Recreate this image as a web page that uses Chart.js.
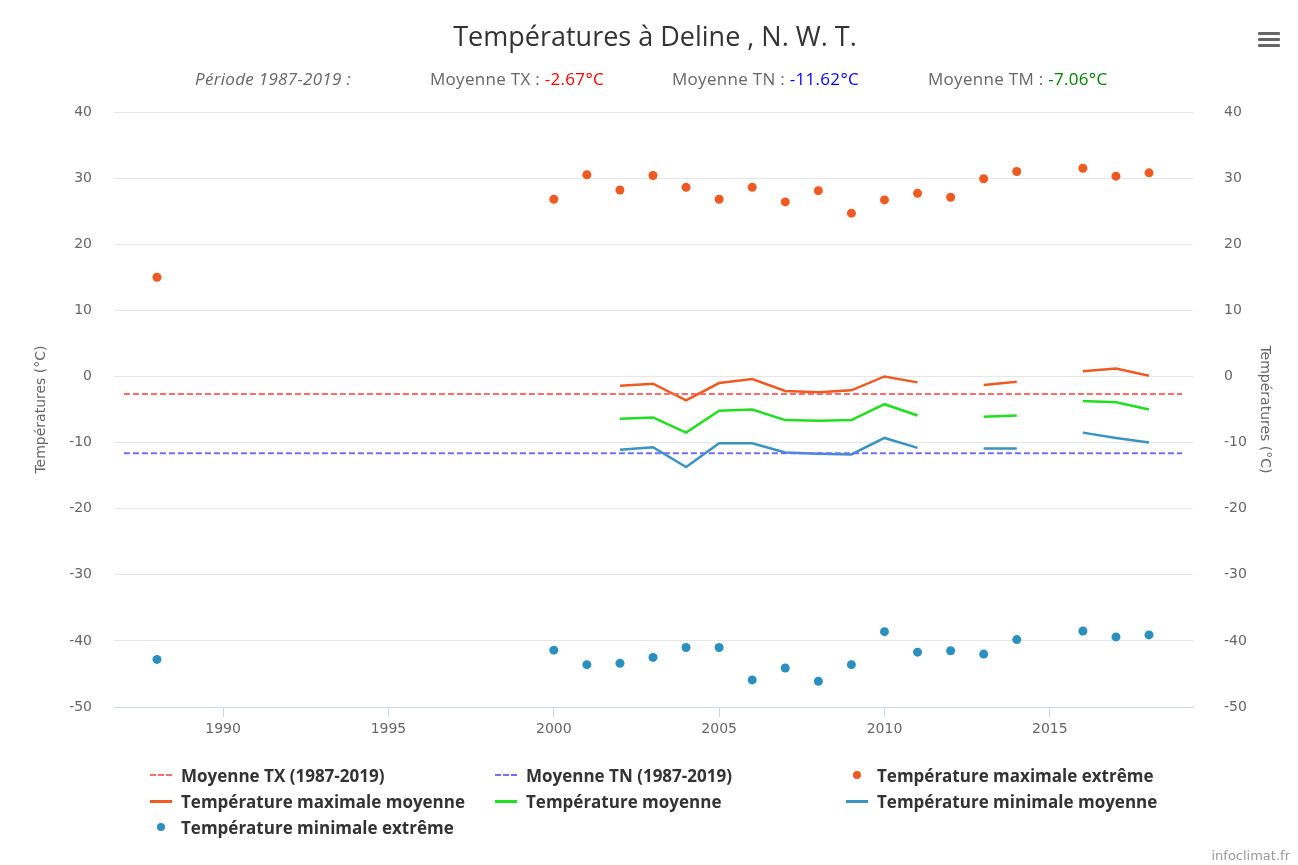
<!DOCTYPE html>
<html>
<head>
<meta charset="utf-8">
<script src="https://cdn.jsdelivr.net/npm/chart.js@4"></script>
<style>
  body { margin: 0; background: #fff; }
  #wrap { position: relative; width: 1298px; height: 865px; overflow: hidden; font-family: "Open Sans", sans-serif; }
  #chart { position: absolute; left: 0; top: 0; }
  #title { position: absolute; left: 0; width: 1310px; top: 17px; text-align: center; font-size: 27px; color: #333; }
  .sub { position: absolute; top: 67px; font-size: 17px; letter-spacing: 0.3px; color: #666; white-space: nowrap; }
  #legend { position: absolute; left: 0; top: 0; width: 1298px; }
  .li { position: absolute; display: flex; align-items: center; font-weight: bold; font-size: 17px; color: #333; white-space: nowrap; height: 20px; }
  .sym { width: 22px; height: 10px; margin-right: 9px; position: relative; }
  #menu { position: absolute; left: 1258px; top: 32px; width: 22px; }
  #menu div { height: 3px; background: #666; margin-bottom: 3px; border-radius: 1px; }
  #credit { position: absolute; right: 8px; top: 848px; font-size: 13px; color: #999; font-family: "DejaVu Sans", sans-serif; }
</style>
</head>
<body>
<div id="wrap">
  <canvas id="chart" width="1298" height="865"></canvas>
  <div id="title">Températures à Deline , N. W. T.</div>
  <div class="sub" style="left:195px"><i>Période 1987-2019 :</i></div>
  <div class="sub" style="left:430px">Moyenne TX : <span style="color:#ff0000">-2.67°C</span></div>
  <div class="sub" style="left:672px">Moyenne TN : <span style="color:#0000ff">-11.62°C</span></div>
  <div class="sub" style="left:928px">Moyenne TM : <span style="color:#008000">-7.06°C</span></div>
  <div id="menu"><div></div><div></div><div></div></div>
  <div id="legend"></div>
  <div id="credit">infoclimat.fr</div>
</div>
<script>
// Années et valeurs (°C)
var refYears = [1987, 2019];
var avgTX = -2.67;
var avgTN = -11.62;

var lineYears = [2002, 2003, 2004, 2005, 2006, 2007, 2008, 2009, 2010, 2011, 2012, 2013, 2014, 2015, 2016, 2017, 2018];
var txMean = [-1.4, -1.1, -3.6, -1.0, -0.4, -2.2, -2.4, -2.1, 0.0, -0.9, null, -1.3, -0.8, null, 0.8, 1.2, 0.1];
var tmMean = [-6.4, -6.2, -8.5, -5.2, -5.0, -6.6, -6.7, -6.6, -4.2, -5.9, null, -6.1, -5.9, null, -3.7, -3.9, -5.0];
var tnMean = [-11.1, -10.7, -13.7, -10.1, -10.1, -11.5, -11.7, -11.8, -9.3, -10.8, null, -10.9, -10.9, null, -8.5, -9.3, -10.0];

var extYears = [1988, 2000, 2001, 2002, 2003, 2004, 2005, 2006, 2007, 2008, 2009, 2010, 2011, 2012, 2013, 2014, 2016, 2017, 2018];
var txExt = [15.0, 26.8, 30.5, 28.2, 30.4, 28.6, 26.8, 28.6, 26.4, 28.1, 24.7, 26.7, 27.7, 27.1, 29.9, 31.0, 31.5, 30.3, 30.8];
var tnExt = [-42.8, -41.4, -43.6, -43.4, -42.5, -41.0, -41.0, -45.9, -44.1, -46.1, -43.6, -38.6, -41.7, -41.5, -42.0, -39.8, -38.5, -39.4, -39.1];

var xTicks = [1990, 1995, 2000, 2005, 2010, 2015];
var yTicks = [40, 30, 20, 10, 0, -10, -20, -30, -40, -50];

function pts(xs, ys) {
	return xs.map((x, i) => ({ x: x, y: ys[i] }));
}

var tickFont = { family: "DejaVu Sans", size: 14 };

var chart = new Chart(document.getElementById("chart"), {
	type: "line",
	data: {
		datasets: [
			{
				label: "Moyenne TX (1987-2019)",
				data: pts(refYears, [avgTX, avgTX]),
				borderColor: "#ff6a6a",
				borderWidth: 2,
				borderDash: [6, 3],
				pointRadius: 0,
				legendCol: 0, legendRow: 0, sym: "dash",
			},
			{
				label: "Moyenne TN (1987-2019)",
				data: pts(refYears, [avgTN, avgTN]),
				borderColor: "#7070ff",
				borderWidth: 2,
				borderDash: [6, 3],
				pointRadius: 0,
				legendCol: 1, legendRow: 0, sym: "dash",
			},
			{
				label: "Température maximale extrême",
				data: pts(extYears, txExt),
				showLine: false,
				pointRadius: 4.5,
				pointBorderWidth: 0,
				pointBackgroundColor: "#ef5a22",
				borderColor: "#ef5a22",
				legendCol: 2, legendRow: 0, sym: "dot",
			},
			{
				label: "Température maximale moyenne",
				data: pts(lineYears, txMean),
				borderColor: "#ef5a22",
				borderWidth: 2.5,
				pointRadius: 0,
				spanGaps: false,
				legendCol: 0, legendRow: 1, sym: "line",
			},
			{
				label: "Température moyenne",
				data: pts(lineYears, tmMean),
				borderColor: "#1ee01e",
				borderWidth: 2.5,
				pointRadius: 0,
				spanGaps: false,
				legendCol: 1, legendRow: 1, sym: "line",
			},
			{
				label: "Température minimale moyenne",
				data: pts(lineYears, tnMean),
				borderColor: "#3a94c2",
				borderWidth: 2.5,
				pointRadius: 0,
				spanGaps: false,
				legendCol: 2, legendRow: 1, sym: "line",
			},
			{
				label: "Température minimale extrême",
				data: pts(extYears, tnExt),
				showLine: false,
				pointRadius: 4.5,
				pointBorderWidth: 0,
				pointBackgroundColor: "#2b8fbf",
				borderColor: "#2b8fbf",
				legendCol: 0, legendRow: 2, sym: "dot",
			},
		],
	},
	options: {
		responsive: false,
		animation: false,
		layout: { padding: { top: 112, left: 0, right: 0, bottom: 0 } },
		plugins: { legend: { display: false }, tooltip: { enabled: false } },
		scales: {
			x: {
				type: "linear",
				min: 1986.7,
				max: 2019.33,
				afterFit: (s) => { s.height = 158; },
				afterBuildTicks: (s) => { s.ticks = xTicks.map((v) => ({ value: v })); },
				grid: { drawOnChartArea: false, drawTicks: true, tickLength: 10, color: "#ccd6eb" },
				border: { color: "#ccd6eb", width: 1 },
				ticks: { color: "#666", font: tickFont, padding: 4, maxRotation: 0, callback: (v) => String(v) },
			},
			y: {
				position: "left",
				min: -50,
				max: 40,
				afterFit: (s) => { s.width = 114; },
				afterBuildTicks: (s) => { s.ticks = yTicks.map((v) => ({ value: v })); },
				grid: { color: "#e6e6e6", drawTicks: false },
				border: { display: false },
				ticks: { color: "#666", font: tickFont, padding: 22 },
				title: { display: true, text: "Températures (°C)", color: "#666", font: { family: "DejaVu Sans", size: 14 }, padding: { top: 33 } },
			},
			y2: {
				position: "right",
				min: -50,
				max: 40,
				afterFit: (s) => { s.width = 105; },
				afterBuildTicks: (s) => { s.ticks = yTicks.map((v) => ({ value: v })); },
				grid: { display: false },
				border: { display: false },
				ticks: { color: "#666", font: tickFont, padding: 23 },
				title: { display: true, text: "Températures (°C)", color: "#666", font: { family: "DejaVu Sans", size: 14 }, padding: { top: 25 } },
			},
		},
	},
});

// Légende HTML sur 3 colonnes
var colLeft = [150, 495, 846];
var rowTop = [765, 791, 817];
var legend = document.getElementById("legend");
chart.data.datasets.forEach((ds) => {
	var item = document.createElement("div");
	item.className = "li";
	item.style.left = colLeft[ds.legendCol] + "px";
	item.style.top = rowTop[ds.legendRow] + "px";
	var sym = document.createElement("div");
	sym.className = "sym";
	var c = ds.borderColor;
	if (ds.sym === "dash") {
		sym.innerHTML = `<div style="position:absolute;left:0;top:4px;width:22px;border-top:2px dashed ${c}"></div>`;
	} else if (ds.sym === "line") {
		sym.innerHTML = `<div style="position:absolute;left:0;top:4px;width:22px;height:2.5px;background:${c}"></div>`;
	} else {
		sym.innerHTML = `<div style="position:absolute;left:7px;top:1px;width:8px;height:8px;border-radius:50%;background:${c}"></div>`;
	}
	item.appendChild(sym);
	item.appendChild(document.createTextNode(ds.label));
	legend.appendChild(item);
});
</script>
</body>
</html>
